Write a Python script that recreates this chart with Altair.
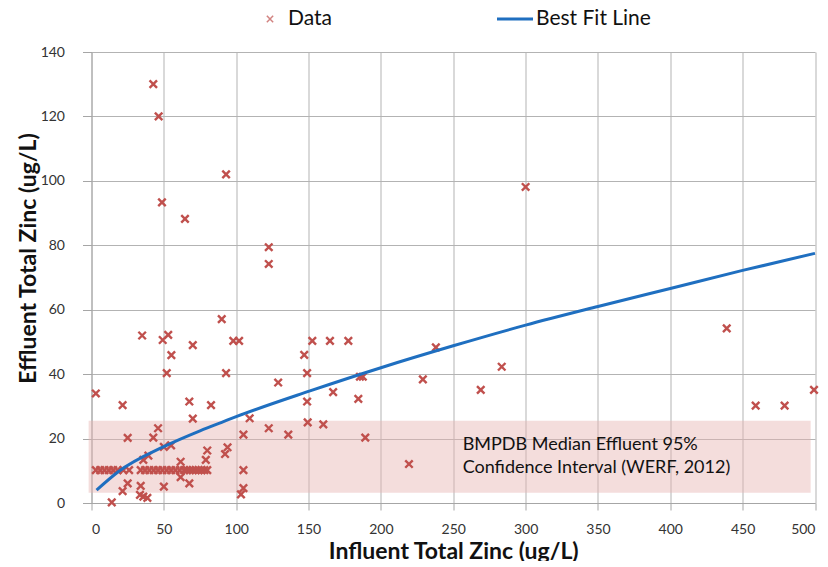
import altair as alt
import pandas as pd

# Scatter data (influent x, effluent y)
data_x = [3, 21.5, 25, 52, 67.6, 70, 82.6, 46, 42.7, 50, 55, 39.3, 35.8, 80, 79, 61.6, 61.6, 67.6, 25, 21.5,
          34, 50, 33.5, 35.8, 38.6, 14,
          3, 6, 9, 12, 15, 18, 22, 26, 34, 37, 40, 43, 46, 49, 52, 55, 58, 61, 64, 66, 68, 70, 72, 74, 76, 78, 80,
          35, 53, 49.2, 70, 55.2, 90, 42.7, 46.4, 93, 48.7, 64.6, 122.5, 122.5, 98, 102, 93, 129, 147, 152.6,
          164.8, 177.5, 149, 167, 185.5, 187.5, 184.4, 149, 109.3, 122.5, 105, 136, 149.4, 160.2, 189.2, 94,
          92.3, 105, 105, 103.3, 238, 229, 269, 283.5, 219.4, 439, 459, 479, 499.3, 300]
data_y = [34, 30.4, 20.2, 40.3, 31.5, 26.2, 30.4, 23.2, 20.3, 17.4, 17.9, 14.7, 13.4, 16.3, 13.4, 12.8, 8, 6.1, 6.1, 3.7,
          5.3, 5.1, 2.5, 2, 1.6, 0.2,
          10.2, 10.2, 10.2, 10.2, 10.2, 10.2, 10.2, 10.2, 10.2, 10.2, 10.2, 10.2, 10.2, 10.2, 10.2, 10.2, 10.2, 10.2,
          10.2, 10.2, 10.2, 10.2, 10.2, 10.2, 10.2, 10.2, 10.2,
          52, 52.2, 50.6, 49, 45.9, 57.1, 130, 120, 102, 93.3, 88.2, 79.4, 74.2, 50.3, 50.3, 40.3, 37.4, 46, 50.3,
          50.3, 50.3, 40.3, 34.4, 39.2, 39.2, 32.3, 31.5, 26.3, 23.2, 21.2, 21.2, 25, 24.4, 20.3, 17.3,
          15.2, 10.2, 4.6, 2.7, 48.3, 38.4, 35.1, 42.3, 12.1, 54.2, 30.2, 30.2, 35.1, 98.1]

# Best fit line
fit_x = [3.5, 18.5, 50, 75, 92, 100, 151, 200, 250, 300, 350, 400, 450, 500]
fit_y = [4, 9.7, 17.5, 22.4, 25.4, 26.8, 34.8, 42, 48.8, 55.2, 61, 66.6, 72.2, 77.5]

# Confidence band
band_x = [-2]
band_x2 = [497]
band_y = [3.2]
band_y2 = [25.5]

ann_text = ["BMPDB Median Effluent 95%", "Confidence Interval (WERF, 2012)"]
ann_x = [256.5, 256.5]
ann_y = [18.0, 10.8]

FONT = "Lato"
RED = "#c0504d"
BLUE = "#1f6fc0"

pts = pd.DataFrame({"x": data_x, "y": data_y})
fit = pd.DataFrame({"x": fit_x, "y": fit_y})
band = pd.DataFrame({"x": band_x, "x2": band_x2, "y": band_y, "y2": band_y2})
ann = pd.DataFrame({"x": ann_x, "y": ann_y, "t": ann_text})

xs = alt.Scale(domain=[0, 500], nice=False)
ys = alt.Scale(domain=[0, 140], nice=False)

xaxis = alt.Axis(values=list(range(0, 501, 50)), title="Influent Total Zinc (ug/L)",
                 tickSize=7, labelPadding=12, titleY=55, titleBaseline="alphabetic")
yaxis = alt.Axis(values=list(range(0, 141, 20)), title="Effluent Total Zinc (ug/L)",
                 tickSize=9, labelPadding=18, titleX=-63.5, titleY=206,
                 titleAngle=270, titleBaseline="middle", titleAlign="center")

band_layer = alt.Chart(band).mark_rect(color="#e6b3b2", opacity=0.45).encode(
    x=alt.X("x:Q", scale=xs, axis=xaxis), x2="x2:Q",
    y=alt.Y("y:Q", scale=ys, axis=yaxis), y2="y2:Q")

pt_layer = alt.Chart(pts).mark_point(
    shape="M-1,-1L1,1M-1,1L1,-1", filled=False, color=RED, strokeWidth=2.4, size=56, opacity=1
).encode(x=alt.X("x:Q", scale=xs), y=alt.Y("y:Q", scale=ys))

line_layer = alt.Chart(fit).mark_line(color=BLUE, strokeWidth=3, interpolate="monotone").encode(
    x=alt.X("x:Q", scale=xs), y=alt.Y("y:Q", scale=ys))

ann_layer = alt.Chart(ann).mark_text(align="left", baseline="middle", font=FONT, fontSize=18,
                                     color="#111").encode(
    x=alt.X("x:Q", scale=xs), y=alt.Y("y:Q", scale=ys), text="t:N")

# Legend (drawn above the plot area)
leg_pt = alt.Chart(pd.DataFrame({"a": [0]})).mark_point(
    shape="M-1,-1L1,1M-1,1L1,-1", filled=False, color=RED, strokeWidth=1.5, size=40
).encode(x=alt.value(178.5), y=alt.value(-33))
leg_t1 = alt.Chart(pd.DataFrame({"a": [0]})).mark_text(
    text="Data", align="left", baseline="middle", font=FONT, fontSize=21, color="#111"
).encode(x=alt.value(196.5), y=alt.value(-33))
leg_ln = alt.Chart(pd.DataFrame({"a": [0]})).mark_rule(color=BLUE, strokeWidth=3).encode(
    x=alt.value(405.5), x2=alt.value(441.5), y=alt.value(-33))
leg_t2 = alt.Chart(pd.DataFrame({"a": [0]})).mark_text(
    text="Best Fit Line", align="left", baseline="middle", font=FONT, fontSize=21, color="#111"
).encode(x=alt.value(444.5), y=alt.value(-33))

chart = alt.layer(band_layer, pt_layer, line_layer, ann_layer, leg_pt, leg_t1, leg_ln, leg_t2).properties(
    width=723.5, height=451,
    autosize=alt.AutoSizeParams(type="none"),
    padding={"left": 83.5, "top": 44, "right": 5, "bottom": 58},
).configure_view(stroke=None).configure_axis(
    gridColor="#b3b3b3", gridWidth=1, domainColor="#a6a6a6", tickColor="#a6a6a6",
    labelFont=FONT, labelFontSize=14, labelColor="#333333",
    titleFont=FONT, titleFontSize=23, titleFontWeight="bold", titleColor="#111111",
)

chart.save("out.html", embed_options={"renderer": "svg", "actions": False})
